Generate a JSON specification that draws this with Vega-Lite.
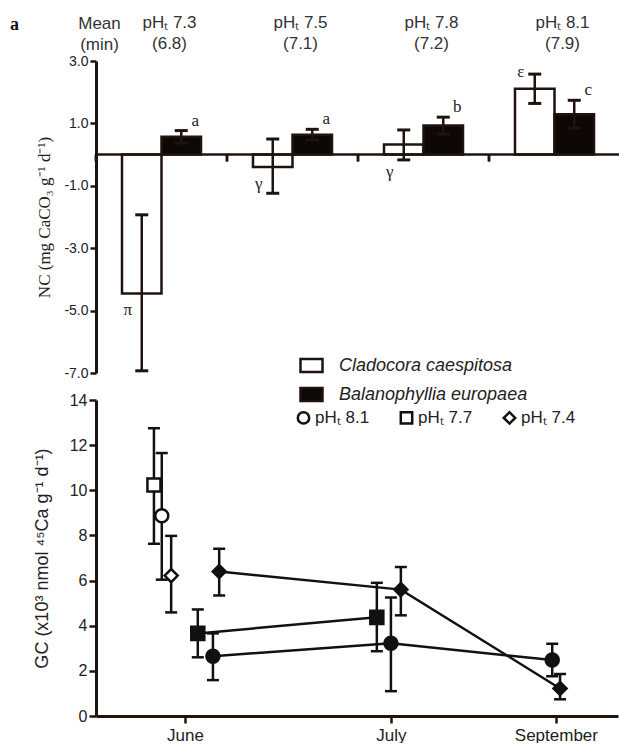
{
  "$schema": "https://vega.github.io/schema/vega-lite/v6.json",
  "padding": {"left": 10, "top": 13, "right": 0, "bottom": 0},
  "background": "white",
  "bounds": "flush",
  "spacing": 27,
  "config": {
    "view": {"stroke": null},
    "font": "Liberation Sans",
    "axis": {"domainColor": "#20130e", "tickColor": "#20130e", "labelColor": "#222", "titleColor": "#222", "grid": false, "labelFont": "Liberation Sans"}
  },
  "resolve": {"scale": {"fill": "independent", "shape": "independent"}, "legend": {"fill": "independent", "shape": "independent"}},
  "datasets": {
    "nc": [
      {"grp": "pHₜ 7.3|(6.8)", "species": "Cladocora caespitosa", "mean": -4.45, "lo": -6.93, "hi": -1.93, "label": "π"},
      {"grp": "pHₜ 7.3|(6.8)", "species": "Balanophyllia europaea", "mean": 0.57, "lo": 0.37, "hi": 0.77, "label": "a"},
      {"grp": "pHₜ 7.5|(7.1)", "species": "Cladocora caespitosa", "mean": -0.4, "lo": -1.24, "hi": 0.5, "label": "γ"},
      {"grp": "pHₜ 7.5|(7.1)", "species": "Balanophyllia europaea", "mean": 0.64, "lo": 0.47, "hi": 0.81, "label": "a"},
      {"grp": "pHₜ 7.8|(7.2)", "species": "Cladocora caespitosa", "mean": 0.32, "lo": -0.17, "hi": 0.79, "label": "γ"},
      {"grp": "pHₜ 7.8|(7.2)", "species": "Balanophyllia europaea", "mean": 0.93, "lo": 0.66, "hi": 1.2, "label": "b"},
      {"grp": "pHₜ 8.1|(7.9)", "species": "Cladocora caespitosa", "mean": 2.11, "lo": 1.64, "hi": 2.58, "label": "ε"},
      {"grp": "pHₜ 8.1|(7.9)", "species": "Balanophyllia europaea", "mean": 1.29, "lo": 0.84, "hi": 1.74, "label": "c"}
    ],
    "gc": [
      {"species": "Cladocora caespitosa", "ph": "pHₜ 7.7", "t": 11.1, "mean": 10.23, "lo": 7.63, "hi": 12.75},
      {"species": "Cladocora caespitosa", "ph": "pHₜ 8.1", "t": 12.6, "mean": 8.87, "lo": 6.04, "hi": 11.65},
      {"species": "Cladocora caespitosa", "ph": "pHₜ 7.4", "t": 14.4, "mean": 6.22, "lo": 4.59, "hi": 7.98},
      {"species": "Balanophyllia europaea", "ph": "pHₜ 7.7", "t": 19.5, "mean": 3.66, "lo": 2.6, "hi": 4.72},
      {"species": "Balanophyllia europaea", "ph": "pHₜ 8.1", "t": 22.4, "mean": 2.65, "lo": 1.59, "hi": 3.66},
      {"species": "Balanophyllia europaea", "ph": "pHₜ 7.4", "t": 23.6, "mean": 6.4, "lo": 5.34, "hi": 7.41},
      {"species": "Balanophyllia europaea", "ph": "pHₜ 7.7", "t": 53.8, "mean": 4.37, "lo": 2.87, "hi": 5.9},
      {"species": "Balanophyllia europaea", "ph": "pHₜ 8.1", "t": 56.5, "mean": 3.22, "lo": 1.1, "hi": 5.25},
      {"species": "Balanophyllia europaea", "ph": "pHₜ 7.4", "t": 58.4, "mean": 5.6, "lo": 4.46, "hi": 6.6},
      {"species": "Balanophyllia europaea", "ph": "pHₜ 8.1", "t": 87.4, "mean": 2.48, "lo": 1.76, "hi": 3.2},
      {"species": "Balanophyllia europaea", "ph": "pHₜ 7.4", "t": 88.9, "mean": 1.22, "lo": 0.74, "hi": 1.86}
    ]
  },
  "vconcat": [
    {
      "width": 524,
      "height": 312,
      "data": {"name": "nc"},
      "layer": [
        {
          "mark": {"type": "bar", "stroke": "#20130e", "strokeWidth": 2.5},
          "encoding": {
            "x": {"field": "grp", "type": "nominal", "sort": null, "scale": {"paddingInner": 0, "paddingOuter": 0},
              "axis": {"orient": "top", "domain": false, "ticks": false, "labelExpr": "split(datum.value, '|')", "labelFontSize": 17, "labelLineHeight": 21, "labelPadding": 30, "labelOffset": 8, "labelAngle": 0, "title": null, "labelColor": "#333"}},
            "xOffset": {"field": "species", "type": "nominal", "sort": ["Cladocora caespitosa", "Balanophyllia europaea"], "scale": {"paddingInner": 0, "paddingOuter": 0.658}},
            "y": {"field": "mean", "type": "quantitative", "scale": {"domain": [-7, 3], "nice": false, "zero": false},
              "axis": {"values": [-7, -5, -3, -1, 1, 3], "labelExpr": "replace(format(datum.value, '.1f'), '−', '-')", "title": "NC (mg CaCO₃ g⁻¹ d⁻¹)", "titleFont": "Liberation Serif", "titleFontWeight": "normal", "titleFontSize": 17, "titlePadding": 10, "labelFontSize": 14, "domainWidth": 3, "tickWidth": 2.5, "tickSize": 6, "labelPadding": 2}},
            "fill": {"field": "species", "type": "nominal", "scale": {"domain": ["Cladocora caespitosa", "Balanophyllia europaea"], "range": ["white", "#0d0806"]},
              "legend": {"orient": "none", "legendX": 203, "legendY": 292, "title": null, "symbolType": "M-1,-0.6H1V0.6H-1Z", "symbolSize": 484, "symbolStrokeColor": "#20130e", "symbolStrokeWidth": 2.5, "labelFont": "Liberation Sans", "labelFontStyle": "italic", "labelFontSize": 18, "labelLimit": 400, "labelColor": "#222", "labelOffset": 15, "rowPadding": 4, "padding": 0}}
          }
        },
        {
          "data": {"values": [{}]},
          "mark": {"type": "rule", "color": "#20130e", "strokeWidth": 2.5},
          "encoding": {"y": {"datum": 0}}
        },
        {
          "mark": {"type": "rule", "color": "#20130e", "strokeWidth": 2.5},
          "encoding": {
            "x": {"field": "grp", "type": "nominal", "sort": null, "bandPosition": 0},
            "y": {"datum": 0},
            "y2": {"datum": -0.22}
          }
        },
        {
          "mark": {"type": "rule", "color": "#20130e", "strokeWidth": 2.5},
          "encoding": {
            "x": {"field": "grp", "type": "nominal", "sort": null},
            "xOffset": {"field": "species", "type": "nominal", "sort": ["Cladocora caespitosa", "Balanophyllia europaea"]},
            "y": {"field": "lo", "type": "quantitative"},
            "y2": {"field": "hi"}
          }
        },
        {
          "mark": {"type": "tick", "color": "#20130e", "size": 13, "thickness": 3, "opacity": 1},
          "encoding": {
            "x": {"field": "grp", "type": "nominal", "sort": null},
            "xOffset": {"field": "species", "type": "nominal", "sort": ["Cladocora caespitosa", "Balanophyllia europaea"]},
            "y": {"field": "hi", "type": "quantitative"}
          }
        },
        {
          "mark": {"type": "tick", "color": "#20130e", "size": 13, "thickness": 3, "opacity": 1},
          "encoding": {
            "x": {"field": "grp", "type": "nominal", "sort": null},
            "xOffset": {"field": "species", "type": "nominal", "sort": ["Cladocora caespitosa", "Balanophyllia europaea"]},
            "y": {"field": "lo", "type": "quantitative"}
          }
        },
        {
          "transform": [{"filter": "datum.species == 'Balanophyllia europaea'"}],
          "mark": {"type": "text", "font": "Liberation Serif", "fontSize": 17, "dx": 14, "dy": -10, "baseline": "middle", "color": "#222"},
          "encoding": {
            "x": {"field": "grp", "type": "nominal", "sort": null},
            "xOffset": {"field": "species", "type": "nominal", "sort": ["Cladocora caespitosa", "Balanophyllia europaea"]},
            "y": {"field": "hi", "type": "quantitative"},
            "text": {"field": "label"}
          }
        },
        {
          "transform": [{"filter": "datum.label == 'ε'"}],
          "mark": {"type": "text", "font": "Liberation Serif", "fontSize": 17, "dx": -14, "dy": -2, "baseline": "middle", "color": "#222"},
          "encoding": {
            "x": {"field": "grp", "type": "nominal", "sort": null},
            "xOffset": {"field": "species", "type": "nominal", "sort": ["Cladocora caespitosa", "Balanophyllia europaea"]},
            "y": {"field": "hi", "type": "quantitative"},
            "text": {"field": "label"}
          }
        },
        {
          "transform": [{"filter": "datum.species == 'Cladocora caespitosa' && datum.label != 'ε'"}, {"calculate": "min(datum.mean, 0)", "as": "anchor"}],
          "mark": {"type": "text", "font": "Liberation Serif", "fontSize": 17, "dx": -14, "dy": 17, "baseline": "middle", "color": "#222"},
          "encoding": {
            "x": {"field": "grp", "type": "nominal", "sort": null},
            "xOffset": {"field": "species", "type": "nominal", "sort": ["Cladocora caespitosa", "Balanophyllia europaea"]},
            "y": {"field": "anchor", "type": "quantitative"},
            "text": {"field": "label"}
          }
        },
        {
          "data": {"values": [{}]},
          "mark": {"type": "text", "text": ["Mean", "(min)"], "fontSize": 17, "lineHeight": 21, "dx": -62, "dy": -32, "baseline": "alphabetic", "color": "#333"},
          "encoding": {"x": {"datum": "pHₜ 7.3|(6.8)", "type": "nominal"}, "y": {"datum": 3}}
        },
        {
          "data": {"values": [{}]},
          "mark": {"type": "text", "text": "a", "font": "Liberation Serif", "fontWeight": "bold", "fontSize": 18, "dx": -147, "dy": -36, "baseline": "middle", "color": "#111"},
          "encoding": {"x": {"datum": "pHₜ 7.3|(6.8)", "type": "nominal"}, "y": {"datum": 3}}
        }
      ]
    },
    {
      "width": 522,
      "height": 316,
      "data": {"name": "gc"},
      "encoding": {
        "x": {"field": "t", "type": "quantitative", "scale": {"domain": [0, 100], "nice": false, "zero": false},
          "axis": {"values": [17.05, 56.5, 88.1], "labelExpr": "datum.value < 30 ? 'June' : (datum.value < 70 ? 'July' : 'September')", "title": null, "labelFontSize": 17, "domainWidth": 3, "tickWidth": 2.5, "tickSize": 7, "labelPadding": 4}},
        "y": {"type": "quantitative", "scale": {"domain": [0, 14], "nice": false},
          "axis": {"values": [0, 2, 4, 6, 8, 10, 12, 14], "title": "GC (x10³ nmol ⁴⁵Ca g⁻¹ d⁻¹)", "titleFontSize": 18, "titleFontWeight": "normal", "titlePadding": 18, "labelFontSize": 16, "domainWidth": 3, "tickWidth": 2.5, "tickSize": 7}}
      },
      "layer": [
        {
          "transform": [{"filter": "datum.species == 'Balanophyllia europaea'"}],
          "mark": {"type": "line", "color": "#151010", "strokeWidth": 2.5},
          "encoding": {"y": {"field": "mean"}, "detail": {"field": "ph"}, "order": {"field": "t"}}
        },
        {
          "mark": {"type": "rule", "color": "#151010", "strokeWidth": 2.5},
          "encoding": {"y": {"field": "lo"}, "y2": {"field": "hi"}}
        },
        {
          "mark": {"type": "tick", "orient": "horizontal", "color": "#151010", "size": 12, "thickness": 2.5, "opacity": 1},
          "encoding": {"y": {"field": "hi"}}
        },
        {
          "mark": {"type": "tick", "orient": "horizontal", "color": "#151010", "size": 12, "thickness": 2.5, "opacity": 1},
          "encoding": {"y": {"field": "lo"}}
        },
        {
          "transform": [{"filter": "datum.species == 'Cladocora caespitosa'"}],
          "mark": {"type": "point", "size": 170, "opacity": 1},
          "encoding": {
            "y": {"field": "mean"},
            "shape": {"field": "ph", "type": "nominal", "scale": {"domain": ["pHₜ 8.1", "pHₜ 7.7", "pHₜ 7.4"], "range": ["circle", "square", "diamond"]},
              "legend": {"orient": "none", "direction": "horizontal", "legendX": 199, "legendY": 9, "title": null, "symbolSize": 130, "symbolStrokeWidth": 2.5, "labelFontSize": 17, "labelLimit": 300, "labelColor": "#222", "labelOffset": 3, "columnPadding": 25, "padding": 0}},
            "fill": {"value": "white"},
            "stroke": {"value": "#111"},
            "strokeWidth": {"value": 2.5}
          }
        },
        {
          "transform": [{"filter": "datum.species == 'Balanophyllia europaea'"}],
          "mark": {"type": "point", "size": 170, "opacity": 1},
          "encoding": {
            "y": {"field": "mean"},
            "shape": {"field": "ph", "type": "nominal"},
            "fill": {"value": "#111"},
            "stroke": {"value": "#111"},
            "strokeWidth": {"value": 2.5}
          }
        },
        {
          "data": {"values": [{}]},
          "mark": {"type": "text", "text": "b", "fontWeight": "bold", "fontSize": 19, "dx": -80, "dy": -3, "baseline": "middle", "color": "#111"},
          "encoding": {"x": {"datum": 0}, "y": {"datum": 14}}
        }
      ]
    }
  ]
}
